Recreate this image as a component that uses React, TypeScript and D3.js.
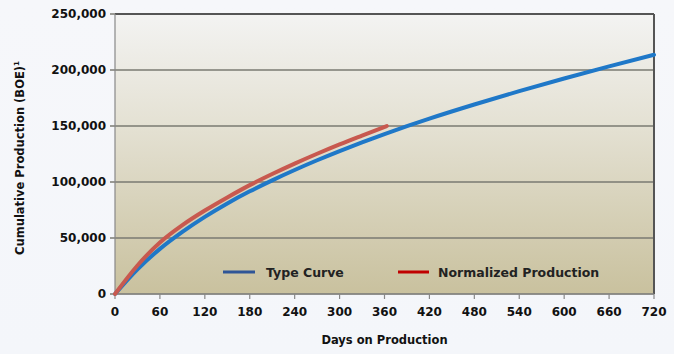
import React from "react";
import * as d3 from "d3";

const typeDays = [0, 30, 60, 90, 120, 150, 180, 210, 240, 270, 300, 330, 360, 390, 420, 480, 540, 600, 660, 720];
const typeValues = [0, 22000, 40300, 55500, 68900, 80900, 91700, 101500, 110700, 119400, 127600, 135400, 142800, 149900, 156600, 169200, 181100, 192400, 203200, 213600];
const normDays = [0, 30, 60, 90, 120, 150, 180, 210, 240, 270, 300, 330, 363];
const normValues = [0, 25500, 46000, 61500, 74500, 86200, 97200, 107100, 116400, 125200, 133600, 141500, 150000];
const xTicks = [0, 60, 120, 180, 240, 300, 360, 420, 480, 540, 600, 660, 720];
const yTicks = [0, 50000, 100000, 150000, 200000, 250000];
const seriesNames = ["Type Curve", "Normalized Production"];

export default function App() {
  const W = 674, H = 354;
  const L = 115, R = 654, T = 14, B = 294;
  const x = d3.scaleLinear().domain([0, 720]).range([L, R]);
  const y = d3.scaleLinear().domain([0, 250000]).range([B, T]);
  const line = d3.line<[number, number]>().x(d => x(d[0])).y(d => y(d[1])).curve(d3.curveMonotoneX);
  const typePts = typeDays.map((d, i) => [d, typeValues[i]] as [number, number]);
  const normPts = normDays.map((d, i) => [d, normValues[i]] as [number, number]);
  const fmt = d3.format(",");
  const font = "'DejaVu Sans', Verdana, sans-serif";
  return (
    <svg width={W} height={H} style={{ position: "absolute", left: 0, top: 0 }} fontFamily={font}>
      <defs>
        <linearGradient id="pg" x1="0" y1="0" x2="0" y2="1">
          <stop offset="0" stopColor="#f6f7fa" />
          <stop offset="1" stopColor="#f4f6fa" />
        </linearGradient>
        <linearGradient id="bg" x1="0" y1="0" x2="0" y2="1">
          <stop offset="0" stopColor="#f3f3f2" />
          <stop offset="0.4" stopColor="#e4e1d3" />
          <stop offset="1" stopColor="#c9c19e" />
        </linearGradient>
      </defs>
      <rect x={0} y={0} width={W} height={H} fill="url(#pg)" />
      <rect x={L} y={T} width={R - L} height={B - T} fill="url(#bg)" />
      {yTicks.map(t => (
        <line key={"g" + t} x1={L - 5} x2={R} y1={y(t)} y2={y(t)} stroke="#7a7a72" strokeWidth={1.5} />
      ))}
      <line x1={L} x2={R} y1={T} y2={T} stroke="#555" strokeWidth={2} />
      <line x1={R} x2={R} y1={T} y2={B} stroke="#555" strokeWidth={2} />
      <line x1={L} x2={L} y1={T} y2={B} stroke="#888" strokeWidth={1.2} />
      <line x1={L} x2={R} y1={B} y2={B} stroke="#888" strokeWidth={1.2} />
      {xTicks.map(t => (
        <line key={"xt" + t} x1={x(t)} x2={x(t)} y1={B} y2={B + 5} stroke="#888" strokeWidth={1.2} />
      ))}
      {yTicks.map(t => (
        <text key={"yl" + t} x={L - 9} y={y(t)} dy="0.36em" textAnchor="end" fontSize={12} fontWeight="bold" fill="#111">{fmt(t)}</text>
      ))}
      {xTicks.map(t => (
        <text key={"xl" + t} x={x(t)} y={316} textAnchor="middle" fontSize={12} fontWeight="bold" fill="#111">{t}</text>
      ))}
      <path d={line(typePts) ?? ""} fill="none" stroke="#1f78c8" strokeWidth={4} strokeLinecap="round" />
      <path d={line(normPts) ?? ""} fill="none" stroke="#c8594f" strokeWidth={4} strokeLinecap="round" />
      <line x1={223} x2={255} y1={272} y2={272} stroke="#2f5597" strokeWidth={3} />
      <text x={266} y={272} dy="0.36em" fontSize={12.5} fontWeight="bold" fill="#222">{seriesNames[0]}</text>
      <line x1={398} x2={429} y1={272} y2={272} stroke="#c00000" strokeWidth={3} />
      <text x={438} y={272} dy="0.36em" fontSize={12.5} fontWeight="bold" fill="#222">{seriesNames[1]}</text>
      <text x={(L + R) / 2} y={344} textAnchor="middle" fontSize={11.5} fontWeight="bold" fill="#111">Days on Production</text>
      <text transform={`translate(24, ${158}) rotate(-90)`} textAnchor="middle" fontSize={11.5} fontWeight="bold" fill="#111">
        Cumulative Production (BOE)<tspan dy="-5" fontSize={7}>1</tspan>
      </text>
    </svg>
  );
}
